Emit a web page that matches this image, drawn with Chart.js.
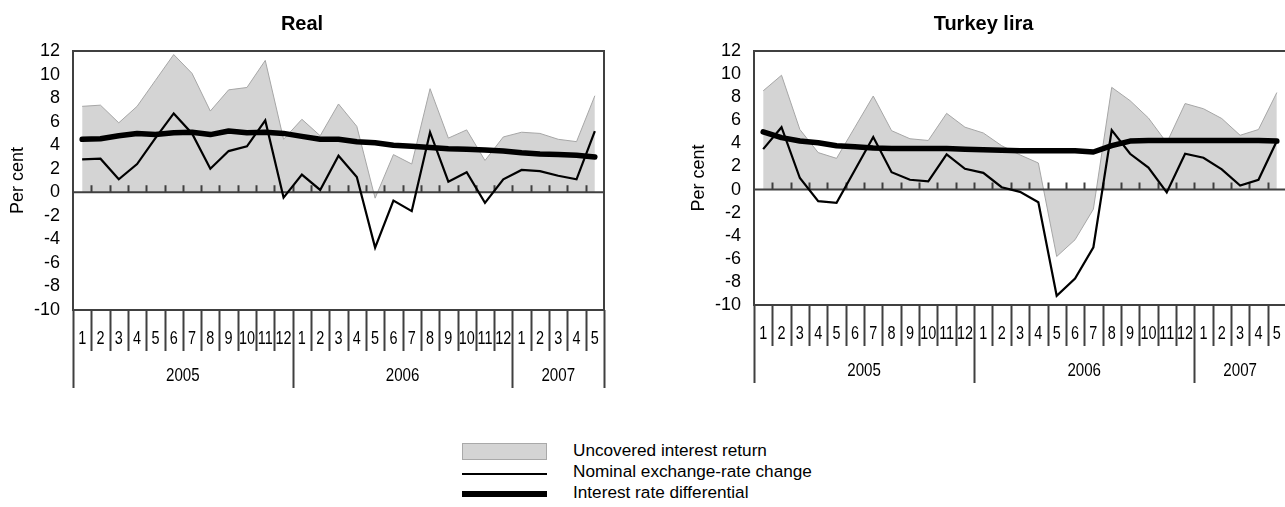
<!DOCTYPE html>
<html>
<head>
<meta charset="utf-8">
<script src="https://cdn.jsdelivr.net/npm/chart.js@4.4.1/dist/chart.umd.min.js"></script>
<style>
  html, body { margin: 0; padding: 0; background: #fff; overflow: hidden; }
  body { width: 1285px; height: 507px; position: relative; font-family: 'Liberation Sans', Arial, sans-serif; }
  canvas { position: absolute; top: 0; }
  #cReal { left: 0; }
  #cTry { left: 681px; }
  .legend { position: absolute; left: 0; top: 0; }
  .key { position: absolute; left: 462px; width: 85px; }
  .key.area { top: 443px; height: 17px; background: #d4d4d4; border: 1px solid #a9a9a9; box-sizing: border-box; }
  .key.thin { top: 473px; height: 2px; background: #000; }
  .key.thick { top: 491px; height: 6px; background: #000; }
  .ltext { position: absolute; left: 573px; font-size: 17.2px; line-height: 20px; color: #000; white-space: nowrap; }
</style>
</head>
<body>
<canvas id="cReal" width="660" height="400"></canvas>
<canvas id="cTry" width="664" height="400"></canvas>

<div class="legend">
  <div class="key area"></div>
  <div class="key thin"></div>
  <div class="key thick"></div>
  <div class="ltext" style="top:440px">Uncovered interest return</div>
  <div class="ltext" style="top:461px">Nominal exchange-rate change</div>
  <div class="ltext" style="top:482px">Interest rate differential</div>
</div>

<script>
// Months Jan 2005 – May 2007
const months = ['1','2','3','4','5','6','7','8','9','10','11','12',
                '1','2','3','4','5','6','7','8','9','10','11','12',
                '1','2','3','4','5'];
const yearLabels = ['2005', '2006', '2007'];
const monthsPerYear = [12, 12, 5];

const yTicks = [-10, -8, -6, -4, -2, 0, 2, 4, 6, 8, 10, 12];

const seriesNames = ['Uncovered interest return', 'Nominal exchange-rate change', 'Interest rate differential'];

// Brazilian real, per cent
const realUncovered = [7.3, 7.4, 5.9, 7.3, 9.5, 11.7, 10.1, 6.9, 8.7, 8.9, 11.2, 4.5,
                       6.2, 4.8, 7.5, 5.6, -0.5, 3.2, 2.4, 8.8, 4.6, 5.3, 2.7, 4.7,
                       5.1, 5.0, 4.5, 4.3, 8.2];
const realExchange  = [2.8, 2.85, 1.1, 2.4, 4.6, 6.7, 5.0, 2.0, 3.5, 3.9, 6.1, -0.45,
                       1.5, 0.2, 3.1, 1.3, -4.7, -0.7, -1.6, 5.1, 0.9, 1.7, -0.9, 1.1,
                       1.9, 1.8, 1.4, 1.1, 5.2];
const realDiff      = [4.5, 4.55, 4.8, 5.0, 4.9, 5.05, 5.1, 4.9, 5.2, 5.05, 5.1, 5.0,
                       4.75, 4.5, 4.5, 4.3, 4.2, 4.0, 3.9, 3.8, 3.7, 3.65, 3.6, 3.5,
                       3.35, 3.25, 3.2, 3.15, 3.0];

// Turkey lira, per cent
const tryUncovered  = [8.55, 9.9, 5.2, 3.2, 2.7, 5.4, 8.1, 5.1, 4.4, 4.25, 6.6, 5.4,
                       4.9, 3.8, 3.0, 2.3, -5.8, -4.35, -1.7, 8.85, 7.7, 6.2, 4.05, 7.45,
                       7.0, 6.15, 4.7, 5.2, 8.4];
const tryExchange   = [3.5, 5.4, 1.0, -1.0, -1.15, 1.7, 4.55, 1.5, 0.85, 0.7, 3.05, 1.8,
                       1.45, 0.2, -0.2, -1.1, -9.2, -7.7, -5.0, 5.15, 3.1, 1.9, -0.25, 3.1,
                       2.75, 1.75, 0.35, 0.85, 4.2];
const tryDiff       = [5.0, 4.5, 4.2, 4.05, 3.8, 3.7, 3.6, 3.55, 3.55, 3.55, 3.55, 3.5,
                       3.45, 3.4, 3.35, 3.35, 3.35, 3.35, 3.25, 3.8, 4.2, 4.25, 4.25, 4.25,
                       4.25, 4.25, 4.25, 4.25, 4.2];

const FONT = "'Liberation Sans', Arial, sans-serif";
const FRAME = '#404040';

// Frame, zero line with month ticks, and the two-level month / year axis
const framePlugin = {
  id: 'frame',
  afterDatasetDraw(chart, args) {
    if (args.index !== 0) return;
    const { ctx, chartArea: a, scales: { x, y } } = chart;
    const y0 = y.getPixelForValue(0);
    const step = x.getPixelForValue(1) - x.getPixelForValue(0);
    ctx.save();
    ctx.strokeStyle = FRAME;
    ctx.lineWidth = 2;
    ctx.beginPath();
    ctx.moveTo(a.left, y0);
    ctx.lineTo(a.right, y0);
    for (let i = 1; i < months.length; i++) {
      const bx = Math.round(x.getPixelForValue(i) - step / 2) + 0.5;
      ctx.moveTo(bx, y0);
      ctx.lineTo(bx, y0 - 7);
    }
    ctx.stroke();
    ctx.restore();
  },
  afterDraw(chart) {
    const { ctx, chartArea: a, scales: { x } } = chart;
    const step = x.getPixelForValue(1) - x.getPixelForValue(0);
    ctx.save();
    ctx.strokeStyle = FRAME;
    ctx.lineWidth = 2;
    ctx.strokeRect(a.left, a.top, a.right - a.left, a.bottom - a.top);

    // year boundaries
    const yearEdges = [0];
    monthsPerYear.forEach(n => yearEdges.push(yearEdges[yearEdges.length - 1] + n));

    ctx.beginPath();
    for (let i = 0; i <= months.length; i++) {
      const bx = Math.round(x.getPixelForValue(i) - step / 2) + 0.5;
      const long = yearEdges.includes(i);
      ctx.moveTo(bx, a.bottom);
      ctx.lineTo(bx, a.bottom + (long ? 78 : 41));
    }
    ctx.stroke();

    ctx.fillStyle = '#000';
    ctx.textAlign = 'center';
    ctx.textBaseline = 'middle';
    ctx.font = '19px ' + FONT;
    months.forEach((m, i) => {
      ctx.save();
      ctx.translate(x.getPixelForValue(i), a.bottom + 29);
      ctx.scale(0.76, 1);
      ctx.fillText(m, 0, 0);
      ctx.restore();
    });
    ctx.font = '18px ' + FONT;
    yearLabels.forEach((lab, k) => {
      const c = (x.getPixelForValue(yearEdges[k]) + x.getPixelForValue(yearEdges[k + 1] - 1)) / 2;
      ctx.save();
      ctx.translate(c, a.bottom + 66);
      ctx.scale(0.84, 1);
      ctx.fillText(lab, 0, 0);
      ctx.restore();
    });
    ctx.restore();
  }
};

function makeChart(id, title, uncovered, exchange, diff, padRight, padBottom) {
  return new Chart(document.getElementById(id), {
    type: 'line',
    data: {
      labels: months,
      datasets: [
        { label: seriesNames[0], data: uncovered, order: 2, fill: 'origin',
          backgroundColor: '#d4d4d4', borderColor: '#a6a6a6', borderWidth: 1,
          pointRadius: 0, tension: 0 },
        { label: seriesNames[1], data: exchange, order: 1, fill: false,
          borderColor: '#000', borderWidth: 2.2, borderJoinStyle: 'miter',
          pointRadius: 0, tension: 0 },
        { label: seriesNames[2], data: diff, order: 0, fill: false,
          borderColor: '#000', borderWidth: 5.5, borderCapStyle: 'round', borderJoinStyle: 'round',
          pointRadius: 0, tension: 0 }
      ]
    },
    options: {
      responsive: false,
      animation: false,
      devicePixelRatio: 1,
      layout: { padding: { left: 0, top: 0, right: padRight, bottom: padBottom } },
      plugins: {
        legend: { display: false },
        tooltip: { enabled: false },
        title: {
          display: true, text: title, color: '#000',
          font: { family: FONT, size: 20, weight: 'bold', lineHeight: 1.2 },
          padding: { top: 12, bottom: 15 }
        }
      },
      scales: {
        x: { type: 'category', offset: true, display: false },
        y: {
          min: -10, max: 12,
          afterBuildTicks: s => { s.ticks = yTicks.map(v => ({ value: v })); },
          afterFit: s => { s.width = 73; },
          grid: { display: false, drawTicks: false },
          border: { display: false },
          ticks: { color: '#000', padding: 13, autoSkip: false, font: { family: FONT, size: 18 } },
          title: { display: true, text: 'Per cent', color: '#000',
                   font: { family: FONT, size: 18 }, padding: { top: 7, bottom: 0 } }
        }
      }
    },
    plugins: [framePlugin]
  });
}

makeChart('cReal', 'Real', realUncovered, realExchange, realDiff, 56, 90);
makeChart('cTry', 'Turkey lira', tryUncovered, tryExchange, tryDiff, 59, 95);
</script>
</body>
</html>
